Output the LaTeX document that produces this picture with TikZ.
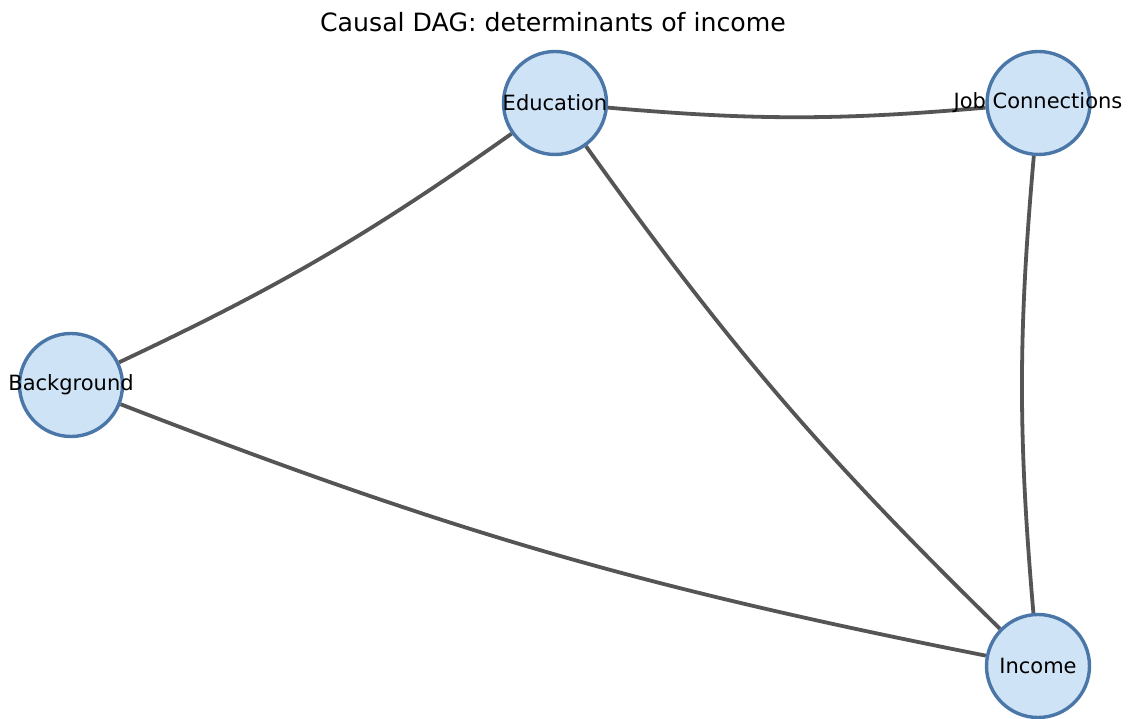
\documentclass[tikz,border=0pt]{standalone}
\usepackage{fontspec}
\setmainfont{DejaVu Sans}
\usetikzlibrary{backgrounds}
\definecolor{edgegray}{HTML}{555555}
\definecolor{nodeblue}{HTML}{4A76A8}
\definecolor{nodefill}{HTML}{CFE3F6}
\begin{document}
\begin{tikzpicture}[x=1pt,y=1pt,
  vert/.style={circle,draw=nodeblue,fill=nodefill,line width=3.4pt,inner sep=0pt,minimum size=103pt},
  lbl/.style={font=\fontsize{21}{25}\selectfont,text=black,inner sep=0pt},
  link/.style={draw=edgegray,line width=3.8pt,bend right=5}
]
\useasboundingbox (0,0) rectangle (1130,719);
\node[font=\fontsize{25.2}{30}\selectfont] (title) at (553,697) {Causal DAG: determinants of income};
\node[vert] (edu) at (555,616) {};
\node[vert] (job) at (1038.5,616) {};
\node[vert] (bkg) at (71,334) {};
\node[vert] (inc) at (1038,53) {};
\node[lbl] (eduL) at (555,616) {Education};
\node[lbl] (jobL) at (1038,616) {Job Connections};
\node[lbl] (bkgL) at (71,334) {Background};
\node[lbl] (incL) at (1038,53) {Income};
\begin{scope}[on background layer]
\draw[link] (edu) to (job);
\draw[link] (job) to (inc);
\draw[link] (edu) to (inc);
\draw[link] (bkg) to (edu);
\draw[link] (bkg) to (inc);
\end{scope}
\end{tikzpicture}
\end{document}
